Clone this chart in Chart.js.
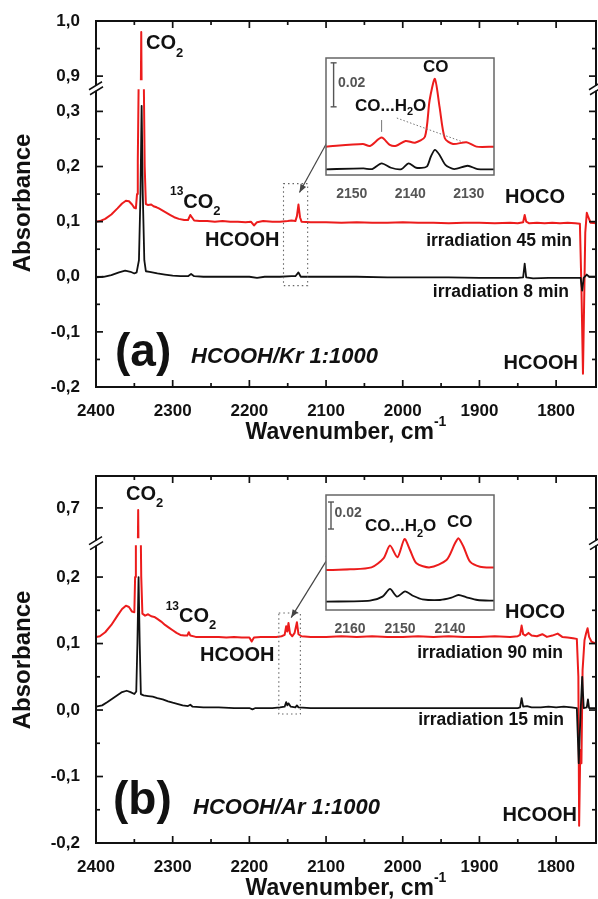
<!DOCTYPE html>
<html>
<head>
<meta charset="utf-8">
<title>FTIR spectra of irradiated HCOOH matrices</title>
<script src="https://cdn.jsdelivr.net/npm/chart.js@4.4.1/dist/chart.umd.min.js"></script>
<style>
  html, body { margin: 0; padding: 0; background: #fff; }
  #page { position: relative; width: 598px; height: 899px; overflow: hidden; background: #fff; }
  #page canvas { position: absolute; }
</style>
</head>
<body>
<div id="page">
  <canvas id="panelA" width="598" height="452" style="left:0;top:0"></canvas>
  <canvas id="panelB" width="598" height="447" style="left:0;top:452px"></canvas>
  <canvas id="insetA" width="188" height="150" style="left:316px;top:48px"></canvas>
  <canvas id="insetB" width="188" height="148" style="left:316px;top:485px"></canvas>
</div>
<script>
// ---------- spectra: [wavenumber (cm-1), absorbance] ----------
// (a) HCOOH/Kr, irradiation 45 min
const kr45min = [
  [2400,0.100],[2395,0.101],[2388,0.105],[2380,0.113],[2372,0.124],[2366,0.133],[2361,0.138],
  [2357,0.137],[2353,0.131],[2350,0.125],[2348,0.124],[2346.5,0.150],[2345.5,0.210],[2344,0.400],
  [2341,0.980],[2338,0.400],[2336.5,0.200],[2335,0.132],[2332,0.130],[2328,0.131],[2325,0.128],
  [2321,0.126],[2318,0.124],[2313,0.120],[2308,0.116],[2303,0.112],[2298,0.108],[2292,0.105],
  [2285,0.103],[2280,0.103],[2277,0.112],[2275,0.108],[2272,0.102],[2265,0.101],[2255,0.101],
  [2245,0.100],[2235,0.101],[2225,0.100],[2215,0.100],[2205,0.099],[2198,0.100],[2194,0.093],
  [2190,0.099],[2182,0.101],[2170,0.100],[2160,0.100],[2150,0.101],[2145,0.102],[2140,0.101],
  [2138,0.110],[2136,0.131],[2134,0.108],[2132,0.100],[2120,0.099],[2100,0.099],[2080,0.098],
  [2060,0.099],[2040,0.098],[2020,0.098],[2000,0.099],[1980,0.098],[1960,0.098],[1940,0.097],
  [1920,0.098],[1900,0.098],[1880,0.097],[1860,0.098],[1850,0.097],[1843,0.099],[1841,0.112],
  [1839,0.100],[1835,0.097],[1825,0.098],[1815,0.097],[1805,0.098],[1795,0.097],[1785,0.098],
  [1775,0.097],[1769,0.096],[1767,-0.020],[1765,-0.176],[1763.5,-0.050],[1762,0.080],
  [1760,0.116],[1758,0.108],[1755,0.098],[1748,0.097]
];
// (a) HCOOH/Kr, irradiation 8 min
const kr8min = [
  [2400,-0.001],[2390,0.000],[2380,0.003],[2370,0.008],[2362,0.011],[2355,0.009],[2350,0.006],
  [2347,0.008],[2344,0.030],[2342,0.150],[2340.5,0.310],[2339,0.150],[2337,0.030],[2335,0.010],
  [2330,0.009],[2320,0.006],[2310,0.004],[2300,0.002],[2290,0.001],[2280,0.001],[2276,0.005],
  [2272,0.001],[2260,0.000],[2240,0.000],[2220,0.000],[2200,0.000],[2190,-0.002],[2180,0.000],
  [2160,0.000],[2145,0.001],[2140,0.001],[2136,0.008],[2133,0.000],[2120,0.000],[2100,0.000],
  [2060,0.000],[2020,-0.001],[1980,-0.001],[1940,-0.001],[1900,-0.002],[1870,-0.002],
  [1850,-0.002],[1843,-0.001],[1841,0.024],[1839,-0.001],[1830,-0.003],[1810,-0.002],
  [1790,-0.002],[1775,-0.002],[1768,-0.002],[1766,-0.025],[1764,-0.002],[1760,0.004],
  [1757,0.000],[1748,0.000]
];
// (b) HCOOH/Ar, irradiation 90 min
const ar90min = [
  [2400,0.110],[2395,0.111],[2388,0.117],[2380,0.128],[2372,0.142],[2366,0.152],[2361,0.157],
  [2357,0.155],[2353,0.148],[2350,0.147],[2349,0.200],[2348,0.300],[2345,0.697],[2342,0.300],
  [2341,0.200],[2339.5,0.145],[2336,0.142],[2332,0.144],[2328,0.141],[2324,0.140],[2320,0.137],
  [2315,0.133],[2310,0.128],[2305,0.124],[2300,0.120],[2295,0.116],[2290,0.113],[2285,0.112],
  [2281,0.112],[2279,0.117],[2277,0.112],[2270,0.110],[2260,0.110],[2250,0.110],[2240,0.110],
  [2230,0.109],[2220,0.110],[2210,0.109],[2200,0.109],[2197,0.103],[2194,0.109],[2185,0.110],
  [2175,0.110],[2165,0.110],[2158,0.111],[2154,0.113],[2152,0.126],[2150.5,0.118],[2149,0.131],
  [2147,0.115],[2144,0.111],[2141,0.116],[2138,0.132],[2136,0.114],[2132,0.111],[2120,0.110],
  [2100,0.110],[2080,0.111],[2060,0.110],[2040,0.111],[2020,0.110],[2000,0.110],[1980,0.111],
  [1960,0.110],[1940,0.111],[1920,0.110],[1900,0.110],[1880,0.111],[1860,0.110],[1850,0.111],
  [1847,0.113],[1845,0.127],[1843,0.114],[1840,0.112],[1836,0.116],[1832,0.112],[1825,0.111],
  [1818,0.114],[1812,0.110],[1805,0.112],[1798,0.115],[1792,0.110],[1785,0.109],[1778,0.108],
  [1773,0.107],[1771,0.050],[1770,-0.174],[1768.5,-0.060],[1767,-0.080],[1765.5,0.060],
  [1763,0.105],[1761,0.115],[1759,0.123],[1757,0.110],[1754,0.103],[1748,0.100]
];
// (b) HCOOH/Ar, irradiation 15 min
const ar15min = [
  [2400,0.005],[2392,0.007],[2385,0.012],[2375,0.020],[2366,0.027],[2360,0.029],[2355,0.027],
  [2350,0.024],[2347.5,0.028],[2346,0.100],[2344.5,0.200],[2343,0.100],[2341.5,0.024],
  [2338,0.022],[2332,0.021],[2326,0.020],[2320,0.018],[2313,0.016],[2306,0.013],[2300,0.011],
  [2293,0.009],[2287,0.007],[2280,0.006],[2277,0.008],[2274,0.005],[2260,0.004],[2240,0.004],
  [2220,0.003],[2200,0.003],[2196,0.001],[2192,0.003],[2170,0.003],[2160,0.004],[2154,0.005],
  [2152,0.012],[2150.5,0.007],[2149,0.010],[2146,0.005],[2140,0.004],[2138,0.007],[2136,0.004],
  [2120,0.003],[2100,0.003],[2060,0.003],[2020,0.003],[1980,0.003],[1940,0.003],[1900,0.003],
  [1870,0.003],[1850,0.003],[1847,0.004],[1845,0.018],[1843,0.005],[1838,0.006],[1832,0.004],
  [1820,0.004],[1810,0.005],[1800,0.004],[1790,0.005],[1780,0.004],[1773,0.003],
  [1770.5,-0.080],[1768,0.000],[1766,0.050],[1764,0.003],[1760,0.004],[1758.5,0.016],
  [1757,0.003],[1748,0.003]
];
// zoomed CO region (offset traces)
const insetKr45 = [
  [2154.4,0.0129],[2148.1,0.0141],[2146.9,0.0132],[2144.9,0.0170],[2143.5,0.0137],[2142.4,0.0133],
  [2140.8,0.0155],[2139.2,0.0147],[2137.5,0.0174],[2136.7,0.0340],[2135.8,0.0437],[2135.0,0.0310],
  [2134.1,0.0167],[2132.7,0.0141],[2130.4,0.0149],[2128.7,0.0129],[2125.7,0.0129]
];
const insetKr8 = [
  [2154.4,0.0026],[2148.0,0.0030],[2146.5,0.0027],[2144.9,0.0053],[2143.3,0.0033],[2141.5,0.0027],
  [2140.3,0.0053],[2139.0,0.0033],[2137.2,0.0038],[2136.5,0.0083],[2135.8,0.0114],[2135.0,0.0091],
  [2134.0,0.0046],[2132.5,0.0027],[2130.2,0.0042],[2128.5,0.0027],[2125.7,0.0026]
];
const insetAr90 = [
  [2164.8,0.0296],[2160.0,0.0301],[2155.7,0.0316],[2153.3,0.0383],[2152.0,0.0477],[2150.5,0.0390],
  [2149.1,0.0526],[2148.0,0.0445],[2146.7,0.0346],[2144.0,0.0316],[2140.7,0.0370],[2139.0,0.0494],
  [2138.3,0.0531],[2137.3,0.0469],[2136.0,0.0358],[2134.0,0.0321],[2131.2,0.0314]
];
const insetAr15 = [
  [2164.8,0.0062],[2156.0,0.0069],[2153.5,0.0099],[2152.0,0.0156],[2150.6,0.0099],[2149.0,0.0138],
  [2147.3,0.0104],[2145.5,0.0079],[2142.0,0.0074],[2139.7,0.0091],[2138.3,0.0111],[2136.7,0.0094],
  [2134.5,0.0074],[2131.2,0.0069]
];

// ---------- axis ticks ----------
const xTicksMain = [2400,2350,2300,2250,2200,2150,2100,2050,2000,1950,1900,1850,1800];
const xLabelsMain = [2400,2300,2200,2100,2000,1900,1800];
const yTicksAHigh = [0.9,0.95,1.0];
const yTicksALow = [-0.2,-0.15,-0.1,-0.05,0,0.05,0.1,0.15,0.2,0.25,0.3];
const yTicksBHigh = [0.7];
const yTicksBLow = [-0.2,-0.15,-0.1,-0.05,0,0.05,0.1,0.15,0.2];
const yLabelsMain = [-0.2,-0.1,0,0.1,0.2,0.3,0.7,0.9,1.0];
const xTicksInsetA = [2150,2140,2130];
const xTicksInsetB = [2160,2150,2140];

// ---------- drawing helpers ----------
const FONT = "'Liberation Sans', Arial, Helvetica, sans-serif";
const RED = '#ec1c1c';
const INK = '#111111';
Chart.defaults.font.family = FONT;
Chart.defaults.color = INK;

const toXY = arr => arr.map(p => ({ x: p[0], y: p[1] }));
const isIn = (list, v) => list.some(u => Math.abs(u - v) < 1e-9);

function fontOf(size, italic) {
  return (italic ? 'italic ' : '') + 'bold ' + size + 'px ' + FONT;
}
// parts: [text, size, dy]
function drawText(ctx, item) {
  const parts = item.parts;
  const widths = parts.map(p => { ctx.font = fontOf(p[1], item.italic); return ctx.measureText(p[0]).width; });
  const total = widths.reduce((a, b) => a + b, 0);
  let x = item.x;
  if (item.align === 'right') x -= total;
  if (item.align === 'center') x -= total / 2;
  ctx.save();
  ctx.fillStyle = item.color || INK;
  ctx.textBaseline = 'middle';
  ctx.textAlign = 'left';
  if (item.rotate) {
    ctx.translate(item.x, item.y);
    ctx.rotate(item.rotate);
    x = -total / 2;
    parts.forEach((p, i) => { ctx.font = fontOf(p[1], item.italic); ctx.fillText(p[0], x, p[2] || 0); x += widths[i]; });
  } else {
    parts.forEach((p, i) => { ctx.font = fontOf(p[1], item.italic); ctx.fillText(p[0], x, item.y + (p[2] || 0)); x += widths[i]; });
  }
  ctx.restore();
}
function seg(ctx, x1, y1, x2, y2) { ctx.beginPath(); ctx.moveTo(x1, y1); ctx.lineTo(x2, y2); ctx.stroke(); }
function arrowHead(ctx, x1, y1, x2, y2) {
  const ang = Math.atan2(y2 - y1, x2 - x1), L = 8, W = 3.2;
  ctx.beginPath();
  ctx.moveTo(x2, y2);
  ctx.lineTo(x2 - L * Math.cos(ang) + W * Math.sin(ang), y2 - L * Math.sin(ang) - W * Math.cos(ang));
  ctx.lineTo(x2 - L * Math.cos(ang) - W * Math.sin(ang), y2 - L * Math.sin(ang) + W * Math.cos(ang));
  ctx.closePath(); ctx.fill();
}

// ---------- main panel with broken absorbance axis ----------
function makePanel(id, cfg) {
  const lineDs = (data, axis, color, width) => ({
    data: toXY(data), yAxisID: axis, borderColor: color, borderWidth: width,
    pointRadius: 0, tension: 0, borderJoinStyle: 'round', fill: false
  });
  const yScale = (range, ticks, weight) => ({
    type: 'linear', position: 'left', stack: 'absorbance', stackWeight: weight,
    min: range[0], max: range[1],
    grid: { display: false }, border: { display: false },
    afterBuildTicks: s => { s.ticks = ticks.map(v => ({ value: v })); },
    afterFit: s => { s.width = 96; },
    ticks: {
      autoSkip: false, padding: 8, color: INK,
      font: { size: 17, weight: 'bold' },
      callback: v => isIn(yLabelsMain, v) ? v.toFixed(1).replace('.', ',') : ''
    }
  });

  const segmentClip = {
    id: 'segmentClip',
    beforeDatasetDraw(chart, args) {
      const s = chart.scales[args.meta.yAxisID], a = chart.chartArea, ctx = chart.ctx;
      let top = s.top - 2, bottom = s.bottom + 2;
      if (args.meta.yAxisID === 'yHigh') { top = s.top; bottom = s.bottom - cfg.gapHigh; }
      else { top = s.top + cfg.gapLow; }
      ctx.save();
      ctx.beginPath(); ctx.rect(a.left, top, a.right - a.left, bottom - top); ctx.clip();
    },
    afterDatasetDraw(chart) { chart.ctx.restore(); }
  };

  const decor = {
    id: 'decor',
    afterDraw(chart) {
      const ctx = chart.ctx, a = chart.chartArea, xs = chart.scales.x;
      const yl = chart.scales.yLow, yh = chart.scales.yHigh;
      ctx.save();
      // frame
      ctx.strokeStyle = INK; ctx.lineWidth = 2;
      ctx.strokeRect(a.left, a.top, a.right - a.left, a.bottom - a.top);
      // inward ticks on all four sides
      ctx.lineWidth = 1.7;
      xs.ticks.forEach(t => {
        const px = xs.getPixelForValue(t.value), L = isIn(xLabelsMain, t.value) ? 7 : 4;
        seg(ctx, px, a.bottom, px, a.bottom - L);
        seg(ctx, px, a.top, px, a.top + L);
      });
      [yl, yh].forEach(s => s.ticks.forEach(t => {
        const py = s.getPixelForValue(t.value), L = isIn(yLabelsMain, t.value) ? 7 : 4;
        seg(ctx, a.left, py, a.left + L, py);
        seg(ctx, a.right, py, a.right - L, py);
      }));
      // axis break marks
      const yb = yh.bottom;
      [a.left, a.right].forEach(x => {
        ctx.fillStyle = '#fff'; ctx.fillRect(x - 2, yb - 2.5, 4, 5);
        ctx.strokeStyle = INK; ctx.lineWidth = 1.5;
        seg(ctx, x - 7, yb + 1.5, x + 6, yb - 6.5);
        seg(ctx, x - 6, yb + 6.5, x + 7, yb - 1.5);
      });
      // dotted box marking the zoomed region
      const b = cfg.zoomBox;
      const bx1 = xs.getPixelForValue(b[0]), bx2 = xs.getPixelForValue(b[1]);
      const by1 = yl.getPixelForValue(b[2]), by2 = yl.getPixelForValue(b[3]);
      ctx.strokeStyle = '#666'; ctx.lineWidth = 1.1; ctx.setLineDash([1.5, 3]);
      ctx.strokeRect(bx1, by1, bx2 - bx1, by2 - by1);
      ctx.setLineDash([]);
      // double-headed arrow to the zoomed view
      const ar = cfg.arrow;
      const ax1 = xs.getPixelForValue(ar[0]), ay1 = yl.getPixelForValue(ar[1]);
      const ax2 = xs.getPixelForValue(ar[2]), ay2 = yl.getPixelForValue(ar[3]);
      ctx.strokeStyle = '#444'; ctx.fillStyle = '#444'; ctx.lineWidth = 1.2;
      seg(ctx, ax1, ay1, ax2, ay2);
      arrowHead(ctx, ax1, ay1, ax2, ay2);
      arrowHead(ctx, ax2, ay2, ax1, ay1);
      ctx.restore();
      // annotations and axis titles
      cfg.labels.forEach(l => drawText(ctx, l));
    }
  };

  return new Chart(document.getElementById(id), {
    type: 'line',
    data: {
      datasets: [
        lineDs(cfg.black, 'yLow', INK, 1.8),
        lineDs(cfg.red, 'yLow', RED, 2),
        lineDs(cfg.red, 'yHigh', RED, 2)
      ]
    },
    options: {
      responsive: false, animation: false, devicePixelRatio: 1,
      layout: { padding: { top: cfg.padTop, right: 2, left: 0, bottom: 0 } },
      plugins: { legend: { display: false }, tooltip: { enabled: false } },
      scales: {
        x: {
          type: 'linear', position: 'bottom', reverse: true, min: 1748, max: 2400,
          grid: { display: false }, border: { display: false },
          afterBuildTicks: s => { s.ticks = xTicksMain.map(v => ({ value: v })); },
          afterFit: s => { s.height = cfg.xAxisHeight; },
          ticks: {
            autoSkip: false, maxRotation: 0, minRotation: 0, padding: 6, color: INK,
            font: { size: 17, weight: 'bold' },
            callback: v => isIn(xLabelsMain, v) ? String(v) : ''
          }
        },
        yLow: yScale(cfg.lowRange, cfg.lowTicks, cfg.lowRange[1] - cfg.lowRange[0]),
        yHigh: yScale(cfg.highRange, cfg.highTicks, cfg.highRange[1] - cfg.highRange[0])
      }
    },
    plugins: [segmentClip, decor]
  });
}

// ---------- zoomed CO region ----------
function makeInset(id, cfg) {
  const frame = {
    id: 'insetFrame',
    beforeDatasetsDraw(chart) {
      const a = chart.chartArea, ctx = chart.ctx;
      ctx.save(); ctx.fillStyle = '#fff';
      ctx.fillRect(a.left, a.top, a.right - a.left, a.bottom - a.top);
      ctx.restore();
    },
    afterDraw(chart) {
      const a = chart.chartArea, ctx = chart.ctx, xs = chart.scales.x, ys = chart.scales.y;
      ctx.save();
      ctx.strokeStyle = '#666'; ctx.lineWidth = 1.5;
      ctx.strokeRect(a.left, a.top, a.right - a.left, a.bottom - a.top);
      // 0.02 absorbance scale bar
      const sb = cfg.scaleBar;
      const sx = xs.getPixelForValue(sb[0]);
      const s1 = ys.getPixelForValue(sb[1]), s2 = ys.getPixelForValue(sb[1] - 0.02);
      ctx.strokeStyle = '#555'; ctx.lineWidth = 1.4;
      seg(ctx, sx, s1, sx, s2);
      seg(ctx, sx - 3, s1, sx + 3, s1);
      seg(ctx, sx - 3, s2, sx + 3, s2);
      (cfg.guides || []).forEach(g => {
        ctx.strokeStyle = '#777'; ctx.lineWidth = 1;
        ctx.setLineDash(g.dash || []);
        seg(ctx, xs.getPixelForValue(g.p[0]), ys.getPixelForValue(g.p[1]),
                 xs.getPixelForValue(g.p[2]), ys.getPixelForValue(g.p[3]));
        ctx.setLineDash([]);
      });
      ctx.restore();
      cfg.labels.forEach(l => drawText(ctx, l));
    }
  };
  return new Chart(document.getElementById(id), {
    type: 'line',
    data: {
      datasets: [
        { data: toXY(cfg.black), borderColor: INK, borderWidth: 1.8, pointRadius: 0, tension: 0.25, borderJoinStyle: 'round' },
        { data: toXY(cfg.red), borderColor: RED, borderWidth: 2, pointRadius: 0, tension: 0.25, borderJoinStyle: 'round' }
      ]
    },
    options: {
      responsive: false, animation: false, devicePixelRatio: 1,
      layout: { padding: { top: 10, left: 10, right: 10, bottom: 0 } },
      plugins: { legend: { display: false }, tooltip: { enabled: false } },
      scales: {
        x: {
          type: 'linear', reverse: true, min: cfg.xRange[0], max: cfg.xRange[1],
          grid: { display: false }, border: { display: false },
          afterBuildTicks: s => { s.ticks = cfg.xTicks.map(v => ({ value: v })); },
          afterFit: s => { s.height = cfg.xAxisHeight; },
          ticks: {
            autoSkip: false, maxRotation: 0, padding: 3, color: '#555',
            font: { size: 14, weight: 'bold' },
            callback: v => String(v)
          }
        },
        y: { display: false, min: 0, max: cfg.yMax }
      }
    },
    plugins: [frame]
  });
}

const ROT = -Math.PI / 2;

makePanel('panelA', {
  red: kr45min, black: kr8min,
  padTop: 21, xAxisHeight: 65,
  lowRange: [-0.2, 0.342], highRange: [0.878, 1.0],
  lowTicks: yTicksALow, highTicks: yTicksAHigh,
  gapHigh: 8, gapLow: 1,
  zoomBox: [2155.5, 2124, 0.169, -0.016],
  arrow: [2134.7, 0.153, 2086.6, 0.2745],
  labels: [
    { x: 146, y: 43, parts: [['CO', 20], ['2', 13, 10]] },
    { x: 170, y: 202, parts: [['13', 12, -10], ['CO', 20], ['2', 13, 9]] },
    { x: 205, y: 240, parts: [['HCOOH', 20]] },
    { x: 505, y: 197, parts: [['HOCO', 20]] },
    { x: 572, y: 241, align: 'right', parts: [['irradiation 45 min', 17.5]] },
    { x: 569, y: 292, align: 'right', parts: [['irradiation 8 min', 17.5]] },
    { x: 578, y: 363, align: 'right', parts: [['HCOOH', 20]] },
    { x: 115, y: 353, parts: [['(a)', 46]] },
    { x: 191, y: 357, italic: true, parts: [['HCOOH/Kr 1:1000', 22]] },
    { x: 23, y: 203, rotate: ROT, parts: [['Absorbance', 24]] },
    { x: 346, y: 433, align: 'center', parts: [['Wavenumber, cm', 23], ['-1', 14, -11]] }
  ]
});

makePanel('panelB', {
  red: ar90min, black: ar15min,
  padTop: 24, xAxisHeight: 56,
  lowRange: [-0.2, 0.251], highRange: [0.647, 0.748],
  lowTicks: yTicksBLow, highTicks: yTicksBHigh,
  gapHigh: 5, gapLow: 2,
  zoomBox: [2161.6, 2133.5, 0.146, -0.006],
  arrow: [2145.5, 0.139, 2091.8, 0.239],
  labels: [
    { x: 126, y: 42, parts: [['CO', 20], ['2', 13, 9]] },
    { x: 165.7, y: 164, parts: [['13', 12, -9], ['CO', 20], ['2', 13, 9]] },
    { x: 200, y: 203, parts: [['HCOOH', 20]] },
    { x: 505, y: 160, parts: [['HOCO', 20]] },
    { x: 563, y: 201, align: 'right', parts: [['irradiation 90 min', 17.5]] },
    { x: 564, y: 268, align: 'right', parts: [['irradiation 15 min', 17.5]] },
    { x: 577, y: 363, align: 'right', parts: [['HCOOH', 20]] },
    { x: 113, y: 349, parts: [['(b)', 46]] },
    { x: 193, y: 356, italic: true, parts: [['HCOOH/Ar 1:1000', 22]] },
    { x: 23, y: 208, rotate: ROT, parts: [['Absorbance', 24]] },
    { x: 346, y: 437, align: 'center', parts: [['Wavenumber, cm', 23], ['-1', 14, -11]] }
  ]
});

makeInset('insetA', {
  red: insetKr45, black: insetKr8,
  xRange: [2125.7, 2154.4], yMax: 0.0532, xTicks: xTicksInsetA, xAxisHeight: 23,
  scaleBar: [2153.1, 0.051],
  guides: [
    { p: [2142.3, 0.0259, 2131.0, 0.0150], dash: [1.5, 2] },
    { p: [2144.9, 0.0250, 2144.9, 0.0196] }
  ],
  labels: [
    { x: 22, y: 35, color: '#555', parts: [['0.02', 14]] },
    { x: 107, y: 19, parts: [['CO', 17]] },
    { x: 39, y: 58, parts: [['CO...H', 17], ['2', 11, 6], ['O', 17]] }
  ]
});

makeInset('insetB', {
  red: insetAr90, black: insetAr15,
  xRange: [2131.2, 2164.8], yMax: 0.0852, xTicks: xTicksInsetB, xAxisHeight: 23,
  scaleBar: [2163.8, 0.08],
  labels: [
    { x: 18.5, y: 28.5, color: '#555', parts: [['0.02', 14]] },
    { x: 131, y: 37, parts: [['CO', 17]] },
    { x: 49, y: 41, parts: [['CO...H', 17], ['2', 11, 8], ['O', 17]] }
  ]
});
</script>
</body>
</html>
